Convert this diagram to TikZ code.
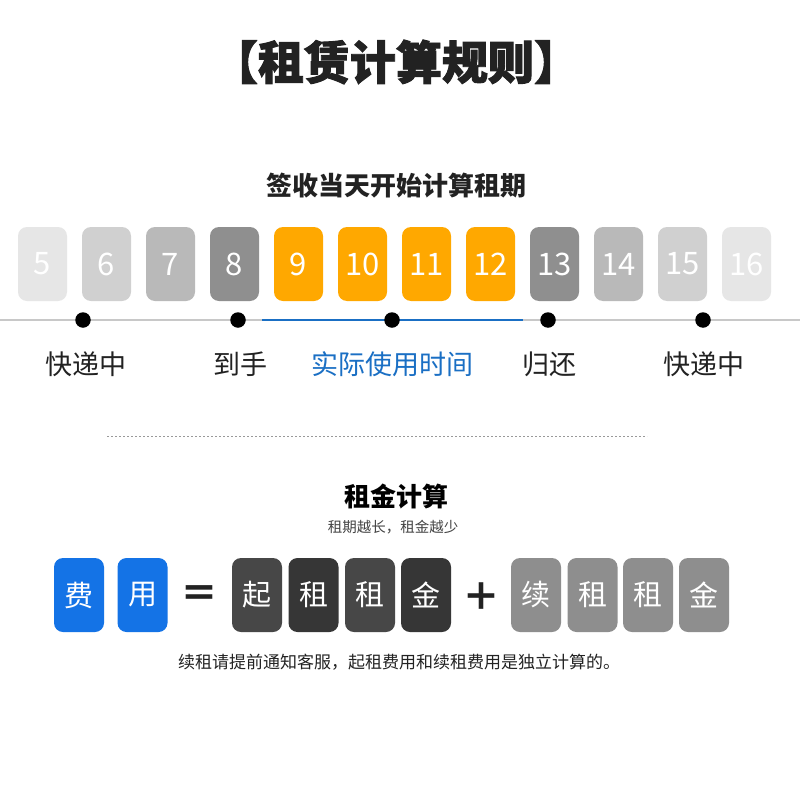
\documentclass[tikz,border=0pt]{standalone}
\usepackage{fontspec}
\setmainfont{Noto Sans CJK SC}
\newfontfamily\heavyfont[BoldFeatures={FakeBold=2}]{Noto Sans CJK SC}
\definecolor{g1}{HTML}{E6E6E6}
\definecolor{g2}{HTML}{D0D0D0}
\definecolor{g3}{HTML}{B9B9B9}
\definecolor{g4}{HTML}{8F8F8F}
\definecolor{org}{HTML}{FFA800}
\definecolor{blu}{HTML}{1A6FC4}
\definecolor{bbox}{HTML}{1473E6}
\definecolor{dk1}{HTML}{474747}
\definecolor{dk2}{HTML}{363636}
\definecolor{gbx}{HTML}{8E8E8E}
\definecolor{txt}{HTML}{222222}
\definecolor{lgray}{HTML}{C8C8C8}
\tikzset{
  daybox/.style={rounded corners=9pt, minimum width=49pt, minimum height=74pt, inner sep=0pt, text=white, font=\fontsize{31}{31}\selectfont},
  charbox/.style={rounded corners=9pt, minimum width=50pt, minimum height=74pt, inner sep=0pt, text=white, font=\fontsize{29}{29}\selectfont},
  dot/.style={circle, fill=black, minimum size=15.5pt, inner sep=0pt},
  lbl/.style={font=\fontsize{27}{27}\selectfont, text=txt},
  opsign/.style={font=\fontsize{38}{38}\selectfont\bfseries, text=txt},
}
\begin{document}
\begin{tikzpicture}[x=1pt,y=-1pt]
\useasboundingbox[fill=white] (0,0) rectangle (800,800);
% title
\node[font=\fontsize{46}{46}\selectfont\heavyfont\bfseries, text=txt] (title) at (396,62) {【租赁计算规则】};
\node[font=\fontsize{26}{26}\selectfont\bfseries, text=txt] (sub) at (396,186) {签收当天开始计算租期};
% day boxes
\node[daybox, fill=g1] (d5) at (42.5,264) {5};
\node[daybox, fill=g2] (d6) at (106.5,264) {6};
\node[daybox, fill=g3] (d7) at (170.5,264) {7};
\node[daybox, fill=g4] (d8) at (234.5,264) {8};
\node[daybox, fill=org] (d9) at (298.5,264) {9};
\node[daybox, fill=org] (d10) at (362.5,264) {10};
\node[daybox, fill=org] (d11) at (426.5,264) {11};
\node[daybox, fill=org] (d12) at (490.5,264) {12};
\node[daybox, fill=g4] (d13) at (554.5,264) {13};
\node[daybox, fill=g3] (d14) at (618.5,264) {14};
\node[daybox, fill=g2] (d15) at (682.5,264) {15};
\node[daybox, fill=g1] (d16) at (746.5,264) {16};
% timeline
\coordinate (lineL) at (0,320);
\coordinate (lineR) at (800,320);
\coordinate (bS) at (262,320);
\coordinate (bE) at (523,320);
\draw[lgray, line width=1.6pt] (lineL) -- (lineR);
\draw[blu, line width=1.6pt] (bS) -- (bE);
\node[dot] (p1) at (83,320) {};
\node[dot] (p2) at (238,320) {};
\node[dot] (p3) at (392,320) {};
\node[dot] (p4) at (548,320) {};
\node[dot] (p5) at (703,320) {};
\node[lbl] (l1) at (86,364) {快递中};
\node[lbl] (l2) at (240,364) {到手};
\node[lbl, text=blu] (l3) at (392,364) {实际使用时间};
\node[lbl] (l4) at (549,364) {归还};
\node[lbl] (l5) at (704,364) {快递中};
% separator
\coordinate (sepL) at (107,436);
\coordinate (sepR) at (647,436);
\draw[gray!80, line width=0.9pt, dash pattern=on 2pt off 2pt] (sepL) -- (sepR);
% rent
\node[font=\fontsize{26}{26}\selectfont\bfseries, text=black] (rt) at (396,497) {租金计算};
\node[font=\fontsize{14.5}{14.5}\selectfont, text=txt!85] (rs) at (393,527) {租期越长，租金越少};
\node[charbox, fill=bbox] (c1) at (79,595) {费};
\node[charbox, fill=bbox] (c2) at (142.5,595) {用};
\node[opsign] (eq) at (199,597) {＝};
\node[charbox, fill=dk1] (c3) at (257,595) {起};
\node[charbox, fill=dk2] (c4) at (313.5,595) {租};
\node[charbox, fill=dk1] (c5) at (370,595) {租};
\node[charbox, fill=dk2] (c6) at (426,595) {金};
\node[opsign] (plus) at (481,597) {＋};
\node[charbox, fill=gbx] (c7) at (536,595) {续};
\node[charbox, fill=gbx] (c8) at (592.5,595) {租};
\node[charbox, fill=gbx] (c9) at (648,595) {租};
\node[charbox, fill=gbx] (c10) at (704,595) {金};
\node[font=\fontsize{17}{17}\selectfont, text=txt] (note) at (399,662) {续租请提前通知客服，起租费用和续租费用是独立计算的。};
\end{tikzpicture}
\end{document}
